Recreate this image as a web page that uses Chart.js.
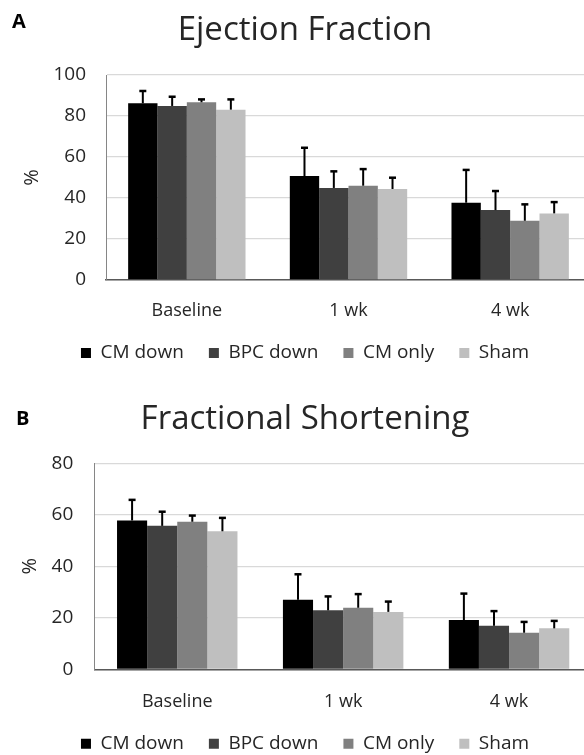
<!DOCTYPE html>
<html lang="en">
<head>
<meta charset="UTF-8">
<title>Ejection Fraction / Fractional Shortening</title>
<script src="https://cdn.jsdelivr.net/npm/chart.js"></script>
<style>
  html, body { margin: 0; padding: 0; background: #fff; overflow: hidden; }
  body { width: 584px; height: 755px; position: relative; }
  .panel { position: absolute; left: 0; width: 610px; }
  #panelA { top: 0; height: 375px; }
  #panelB { top: 385px; height: 380px; }
  .letter { position: absolute; font: bold 20px/1 "Open Sans", sans-serif; color: #000; z-index: 2; }
</style>
</head>
<body>
<div class="panel" id="panelA"><canvas id="efChart" width="610" height="375"></canvas></div>
<div class="panel" id="panelB"><canvas id="fsChart" width="610" height="380"></canvas></div>
<div class="letter" style="left:12px; top:11px;">A</div>
<div class="letter" style="left:16px; top:408px;">B</div>

<script>
const categories = ['Baseline', '1 wk', '4 wk'];
const groups = ['CM down', 'BPC down', 'CM only', 'Sham'];

// Ejection fraction (%), mean and SD per group
const efCmDown  = [86.2, 50.7, 37.7];
const efBpcDown = [84.9, 44.9, 34.1];
const efCmOnly  = [86.7, 46.0, 28.9];
const efSham    = [83.1, 44.4, 32.5];
const efCmDownSd  = [6.0, 13.8, 16.0];
const efBpcDownSd = [4.5, 8.1, 9.3];
const efCmOnlySd  = [1.4, 8.1, 8.0];
const efShamSd    = [5.0, 5.5, 5.5];
const efTicks = [0, 20, 40, 60, 80, 100];

// Fractional shortening (%), mean and SD per group
const fsCmDown  = [57.8, 27.0, 19.1];
const fsBpcDown = [55.7, 22.9, 16.9];
const fsCmOnly  = [57.3, 23.9, 14.2];
const fsSham    = [53.6, 22.3, 15.9];
const fsCmDownSd  = [8.0, 9.9, 10.3];
const fsBpcDownSd = [5.5, 5.4, 5.7];
const fsCmOnlySd  = [2.4, 5.3, 4.2];
const fsShamSd    = [5.2, 4.0, 2.9];
const fsTicks = [0, 20, 40, 60, 80];

const FONT = '"Open Sans", sans-serif';
const colors = ['#000000', '#404040', '#808080', '#bfbfbf'];

// upper error bars, drawn from the bar tops
const errorBars = {
  id: 'errorBars',
  afterDatasetsDraw(chart) {
    const ctx = chart.ctx;
    const yScale = chart.scales.y;
    ctx.save();
    ctx.strokeStyle = '#000';
    chart.data.datasets.forEach((ds, i) => {
      chart.getDatasetMeta(i).data.forEach((bar, j) => {
        const top = yScale.getPixelForValue(ds.data[j] + ds.sd[j]);
        ctx.lineWidth = 2;
        ctx.beginPath();
        ctx.moveTo(bar.x, bar.y);
        ctx.lineTo(bar.x, top);
        ctx.stroke();
        ctx.lineWidth = 2.5;
        ctx.beginPath();
        ctx.moveTo(bar.x - 3.5, top);
        ctx.lineTo(bar.x + 3.5, top);
        ctx.stroke();
      });
    });
    ctx.restore();
  }
};

function makeChart(id, title, series, sds, ticks, p) {
  const ctx = document.getElementById(id).getContext('2d');
  return new Chart(ctx, {
    type: 'bar',
    data: {
      labels: categories,
      datasets: groups.map((g, i) => ({
        label: g,
        data: series[i],
        sd: sds[i],
        backgroundColor: colors[i],
        borderWidth: 0,
        categoryPercentage: 0.726,
        barPercentage: 1.0
      }))
    },
    options: {
      responsive: false,
      devicePixelRatio: 1,
      animation: false,
      layout: { padding: { left: p.left, right: p.right, top: 0, bottom: p.bottom } },
      plugins: {
        title: {
          display: true,
          text: title,
          color: '#262626',
          font: { family: FONT, size: 33, weight: 'normal' },
          padding: { top: p.titleTop, bottom: p.titleBottom }
        },
        legend: {
          position: 'bottom',
          labels: {
            boxWidth: 10,
            boxHeight: 10,
            padding: 25,
            color: '#262626',
            font: { family: FONT, size: 19 }
          }
        },
        tooltip: { enabled: false }
      },
      scales: {
        x: {
          grid: { display: false, drawTicks: false },
          border: { display: true, color: '#595959', width: 1.5 },
          ticks: { padding: p.xTick, color: '#262626', font: { family: FONT, size: 18 } },
          afterFit(scale) { scale.height = p.xHeight; }
        },
        y: {
          min: ticks[0],
          max: ticks[ticks.length - 1],
          ticks: { stepSize: ticks[1] - ticks[0], padding: p.yTick, color: '#262626', font: { family: FONT, size: 19 } },
          grid: { color: '#d9d9d9', lineWidth: 1.3, drawTicks: false },
          border: { display: true, color: '#868686', width: 1 },
          title: { display: true, text: '%', color: '#262626', font: { family: FONT, size: 20 }, padding: { top: p.pctPad, bottom: 0 } },
          afterFit(scale) { scale.width = p.axisLeft - p.left; }
        }
      }
    },
    plugins: [errorBars]
  });
}

makeChart('efChart', 'Ejection Fraction',
  [efCmDown, efBpcDown, efCmOnly, efSham],
  [efCmDownSd, efBpcDownSd, efCmOnlySd, efShamSd],
  efTicks,
  { left: 19, right: 19, bottom: 2.5, axisLeft: 106, titleTop: 10.5, titleBottom: 24.9,
    xTick: 20.4, xHeight: 38.5, yTick: 20, pctPad: 1 });

makeChart('fsChart', 'Fractional Shortening',
  [fsCmDown, fsBpcDown, fsCmOnly, fsSham],
  [fsCmDownSd, fsBpcDownSd, fsCmOnlySd, fsShamSd],
  fsTicks,
  { left: 18, right: 18, bottom: 1.8, axisLeft: 94.3, titleTop: 15.2, titleBottom: 23.5,
    xTick: 22.1, xHeight: 39.9, yTick: 21, pctPad: 0 });
</script>
</body>
</html>
